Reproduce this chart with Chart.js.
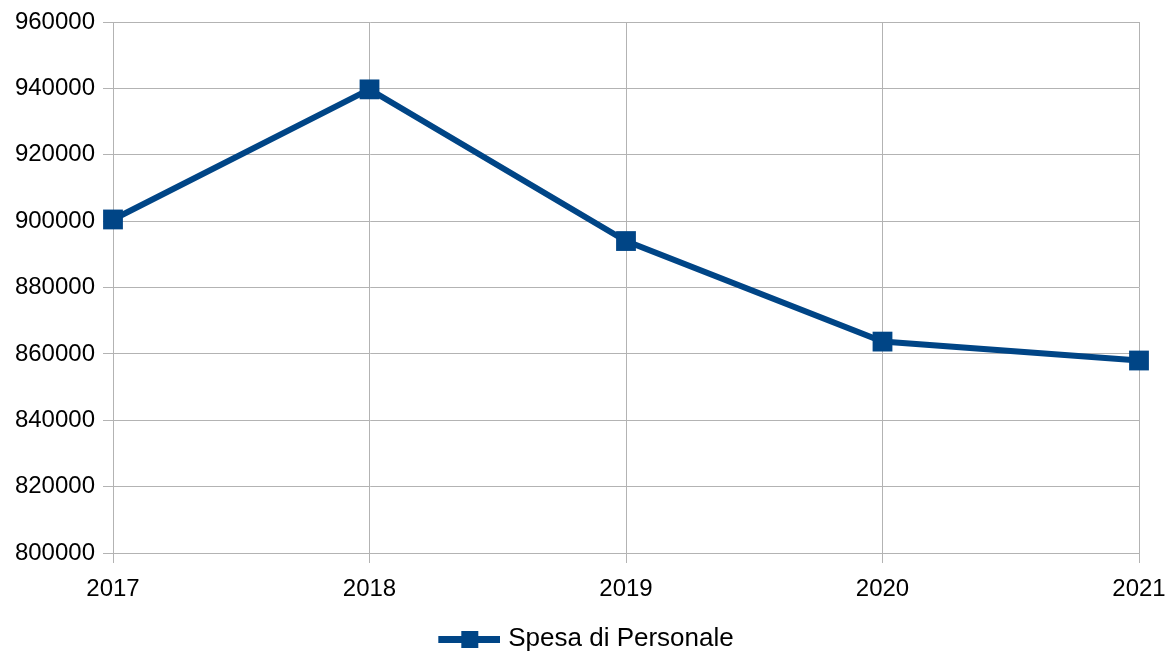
<!DOCTYPE html>
<html>
<head>
<meta charset="utf-8">
<script src="https://cdn.jsdelivr.net/npm/chart.js@4/dist/chart.umd.min.js"></script>
<style>
  html, body { margin: 0; padding: 0; background: #fff; }
  #wrap { width: 1168px; height: 651px; }
</style>
</head>
<body>
<div id="wrap"><canvas id="chart" width="1168" height="651"></canvas></div>
<script>
// Data
const years = ['2017', '2018', '2019', '2020', '2021'];
const spesaPersonale = [900500, 939700, 894000, 863700, 858000];
const seriesLabel = 'Spesa di Personale';

const blue = '#004586';
const gridColor = '#b3b3b3';
const fontFamily = '"Liberation Sans", Arial, sans-serif';

// Legend symbol: a line with a square marker on it (left part left blank
// so the whole legend sits centred on the page like the original)
function legendSymbol() {
    const c = document.createElement('canvas');
    c.width = 100;
    c.height = 18;
    const g = c.getContext('2d');
    g.fillStyle = blue;
    g.fillRect(38, 6, 62, 7);
    g.fillRect(61, 1, 17, 17);
    return c;
}

const ctx = document.getElementById('chart').getContext('2d');
new Chart(ctx, {
    type: 'line',
    data: {
        labels: years,
        datasets: [{
            label: seriesLabel,
            data: spesaPersonale,
            borderColor: blue,
            backgroundColor: blue,
            borderWidth: 6,
            pointStyle: 'rect',
            pointRadius: 14,
            pointBorderWidth: 0,
            pointBackgroundColor: blue,
            tension: 0,
            fill: false
        }]
    },
    options: {
        responsive: false,
        animation: false,
        layout: {
            padding: { left: 0, right: 29, top: 22, bottom: -11 }
        },
        scales: {
            x: {
                offset: false,
                grid: { color: gridColor, tickLength: 10, lineWidth: 1 },
                border: { color: gridColor },
                ticks: {
                    color: '#000',
                    font: { family: fontFamily, size: 24 },
                    padding: 12,
                    maxRotation: 0
                },
                afterFit: function (scale) {
                    scale.height = 73;
                    scale.paddingLeft = 0;
                    scale.paddingRight = 0;
                }
            },
            y: {
                min: 800000,
                max: 960000,
                grid: { color: gridColor, tickLength: 10, lineWidth: 1 },
                border: { color: gridColor },
                ticks: {
                    stepSize: 20000,
                    color: '#000',
                    font: { family: fontFamily, size: 24 },
                    padding: 8,
                    callback: function (v) { return String(v); }
                },
                afterFit: function (scale) {
                    scale.width = 113;
                    scale.paddingTop = 0;
                    scale.paddingBottom = 0;
                }
            }
        },
        plugins: {
            legend: {
                position: 'bottom',
                labels: {
                    usePointStyle: true,
                    pointStyle: legendSymbol(),
                    pointStyleWidth: 90,
                    color: '#000',
                    font: { family: fontFamily, size: 26 },
                    padding: 0
                }
            },
            tooltip: { enabled: false }
        }
    }
});
</script>
</body>
</html>
